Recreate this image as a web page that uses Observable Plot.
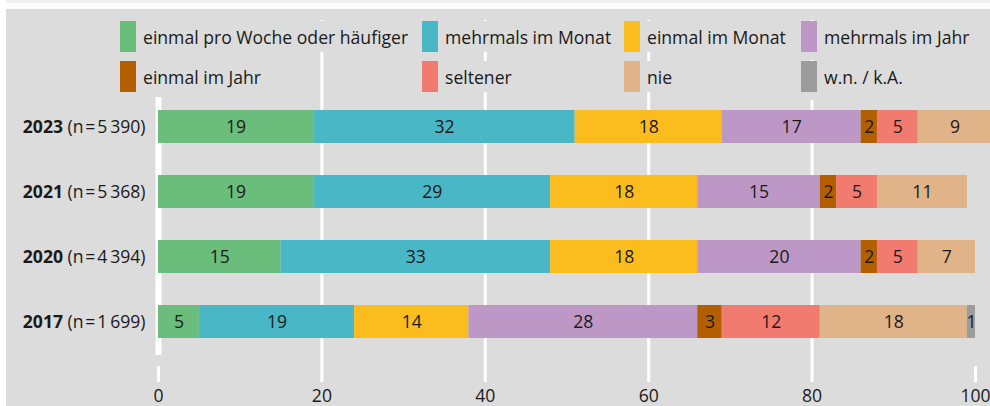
<!DOCTYPE html>
<html>
<head>
<meta charset="utf-8">
<script src="https://cdn.jsdelivr.net/npm/d3@7"></script>
<script src="https://cdn.jsdelivr.net/npm/@observablehq/plot@0.6"></script>
<style>
  html, body { margin: 0; padding: 0; background: #ffffff; width: 990px; height: 406px; overflow: hidden; }
  #strip { position: absolute; left: 6px; top: 0; width: 984px; height: 3px; background: #efefef; }
  #box { position: absolute; left: 6px; top: 9px; width: 984px; height: 397px; background: #dcdcdc; overflow: hidden; }
  #chart { position: absolute; left: 0; top: 0; }
  .item { position: absolute; display: flex; align-items: center; height: 31px; background: #dcdcdc;
          font-family: "Open Sans", sans-serif; font-size: 17.6px; color: #1a1a1a; white-space: nowrap; }
  .item .sw { width: 16px; height: 31px; margin-right: 7px; flex: none; }
  .item.last { box-shadow: 0 8px 0 #dcdcdc; }
</style>
</head>
<body>
<div id="strip"></div>
<div id="box"><div id="chart"></div><div id="legend"></div></div>
<script>
// ---- data ----
const categories = ["einmal pro Woche oder häufiger", "mehrmals im Monat", "einmal im Monat", "mehrmals im Jahr",
                    "einmal im Jahr", "seltener", "nie", "w.n. / k.A."];
const colors = ["#6bbd7b", "#4ab7c7", "#fbbd1d", "#bd98c6", "#b35f00", "#f07b6e", "#e0b388", "#9c9c9b"];
const years = ["2023", "2021", "2020", "2017"];
const nLabels = ["5\u2009390", "5\u2009368", "4\u2009394", "1\u2009699"];
const weekly       = [19, 19, 15, 5];
const monthlyMulti = [32, 29, 33, 19];
const monthlyOnce  = [18, 18, 18, 14];
const yearlyMulti  = [17, 15, 20, 28];
const yearlyOnce   = [2, 2, 2, 3];
const rarer        = [5, 5, 5, 12];
const never        = [9, 11, 7, 18];
const noAnswer     = [0, 0, 0, 1];
const xTicks = [0, 20, 40, 60, 80, 100];
const gridTicks = [20, 40, 60, 80];

const series = [weekly, monthlyMulti, monthlyOnce, yearlyMulti, yearlyOnce, rarer, never, noAnswer];
const data = [];
years.forEach((y, i) => {
  categories.forEach((c, j) => {
    const v = series[j][i];
    if (v > 0) data.push({year: y, category: c, value: v});
  });
});
const yLabel = new Map(years.map((y, i) => [y, `${y} (n\u200A=\u200A${nLabels[i]})`]));

const font = "Open Sans, sans-serif";
const fs = 17.6;
const plot = Plot.plot({
  width: 984,
  height: 397,
  marginLeft: 152,
  marginRight: 15,
  marginTop: 11,
  marginBottom: 40,
  style: {background: "transparent", fontFamily: font, fontSize: fs + "px", color: "#1a1a1a", overflow: "visible"},
  x: {domain: [0, 100], axis: null, label: null},
  y: {domain: years, range: [85, 345], paddingInner: 0.5, paddingOuter: 0.25, axis: null, label: null},
  color: {domain: categories, range: colors},
  marks: [
    Plot.gridX(gridTicks, {stroke: "white", strokeOpacity: 1, strokeWidth: 3}),
    Plot.axisX(xTicks, {stroke: "white", strokeWidth: 3, tickSize: 16, tickPadding: 7, fontSize: fs, fill: "#1a1a1a", label: null}),
    Plot.ruleX([0], {stroke: "white", strokeWidth: 6, insetTop: 77, insetBottom: 11}),
    Plot.axisY({tickSize: 0, tickPadding: 13, fontSize: fs, fill: "#1a1a1a", label: null, tickFormat: d => yLabel.get(d)}),
    Plot.barX(data, {x: "value", y: "year", fill: "category", order: categories}),
    Plot.text(data, Plot.stackX({x: "value", y: "year", z: "category", order: categories, text: d => String(d.value),
      fill: "#1a1a1a", fontSize: fs}))
  ]
});
document.getElementById("chart").appendChild(plot);

// bold year in y tick labels
d3.select(plot).selectAll('g[aria-label="y-axis tick label"] text').each(function() {
  const t = d3.select(this);
  const s = this.textContent;
  const k = s.indexOf(" ");
  t.text(null);
  t.append("tspan").attr("font-weight", "bold").text(s.slice(0, k));
  t.append("tspan").text(s.slice(k));
});

// legend
const lefts = [114, 416, 618, 795];
const tops = [12, 52];
const legend = document.getElementById("legend");
categories.forEach((c, j) => {
  const it = document.createElement("div");
  it.className = "item" + (j % 4 === 3 ? " last" : "");
  it.style.left = lefts[j % 4] + "px";
  it.style.top = tops[Math.floor(j / 4)] + "px";
  const sw = document.createElement("span");
  sw.className = "sw";
  sw.style.background = colors[j];
  it.appendChild(sw);
  it.appendChild(document.createTextNode(c));
  legend.appendChild(it);
});
</script>
</body>
</html>
